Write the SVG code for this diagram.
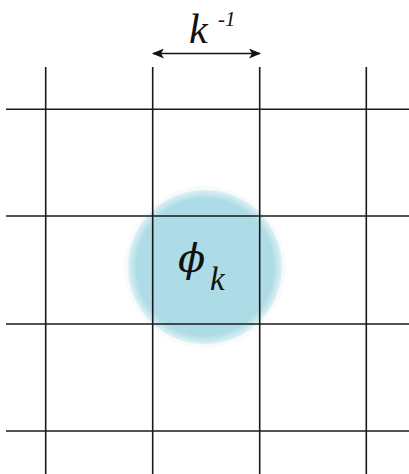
<svg xmlns="http://www.w3.org/2000/svg" width="409" height="474" viewBox="0 0 409 474">
<style>
.grid line{stroke:#1a1a1a;stroke-width:1.6}
.lbl{font-family:"Liberation Serif",serif;font-style:italic;fill:#111}
.phi{font-family:"DejaVu Serif",serif;font-style:italic;fill:#111}
</style>
<defs>
<radialGradient id="blob" cx="0.5" cy="0.5" r="0.5">
<stop offset="0" stop-color="#addbe6"/>
<stop offset="0.85" stop-color="#addbe6"/>
<stop offset="0.95" stop-color="#d6eef3"/>
<stop offset="1" stop-color="#ffffff" stop-opacity="0"/>
</radialGradient>
<marker id="ah" viewBox="0 0 12 10" refX="11" refY="5" markerWidth="12" markerHeight="10" markerUnits="userSpaceOnUse" orient="auto-start-reverse">
<path d="M0,0 L12,5 L0,10 L3,5 Z" fill="#111"/>
</marker>
</defs>
<g id="blob-node">
<circle cx="205" cy="267" r="80" fill="url(#blob)"/>
<circle cx="205" cy="267" r="80" fill="none" stroke="#eeeeee" stroke-width="0.6"/>
</g>
<g id="grid" class="grid">
<line x1="45.7" y1="67" x2="45.7" y2="474"/>
<line x1="152.7" y1="67" x2="152.7" y2="474"/>
<line x1="259.7" y1="67" x2="259.7" y2="474"/>
<line x1="366.3" y1="67" x2="366.3" y2="474"/>
<line x1="6" y1="109.3" x2="409" y2="109.3"/>
<line x1="6" y1="216" x2="409" y2="216"/>
<line x1="6" y1="324" x2="409" y2="324"/>
<line x1="6" y1="431" x2="409" y2="431"/>
</g>
<g id="connectors">
<line x1="153" y1="53.5" x2="260" y2="53.5" stroke="#111" stroke-width="1.5" marker-start="url(#ah)" marker-end="url(#ah)"/>
</g>
<g id="label-k">
<text class="lbl" x="189" y="43" font-size="42">k</text>
<text class="lbl" x="218" y="26" font-size="21">-1</text>
</g>
<g id="label-phi">
<text class="phi" x="178" y="272" font-size="40">ϕ</text>
<text class="lbl" x="210" y="290" font-size="33">k</text>
</g>
</svg>
